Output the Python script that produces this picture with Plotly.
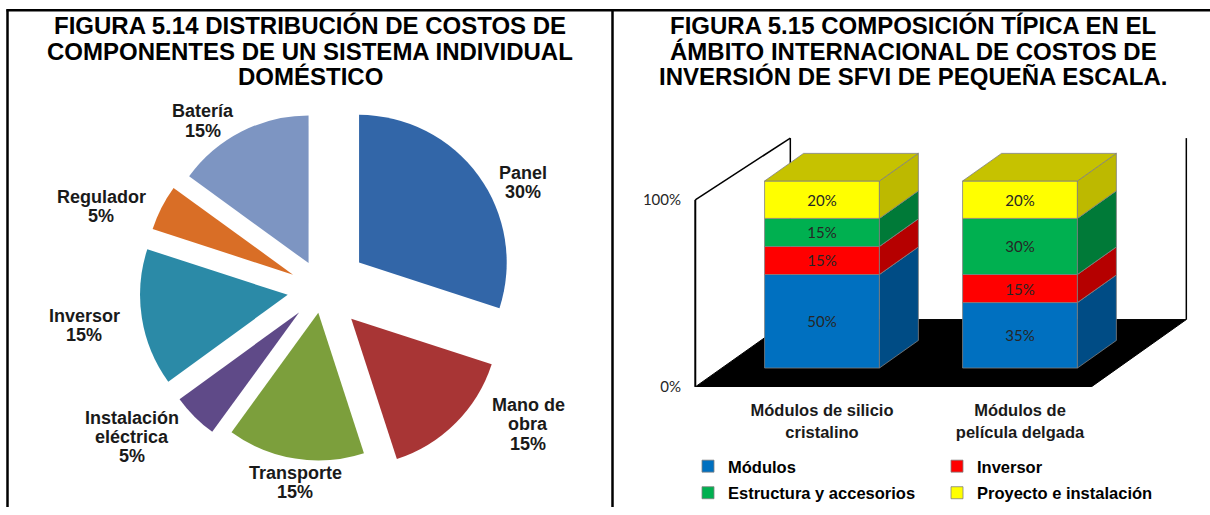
import plotly.graph_objects as go

FIG_W, FIG_H = 1210, 515

# ---------------- Figura 5.14: cost distribution (pie) ----------------
pie_labels = ["Panel", "Mano de obra", "Transporte", "Instalación eléctrica",
              "Inversor", "Regulador", "Batería"]
pie_values = [30, 15, 15, 5, 15, 5, 15]

# ---------------- Figura 5.15: stacked composition (3D-style bars) ----------------
bar_categories = ["Módulos de silicio<br>cristalino", "Módulos de<br>película delgada"]
series_names = ["Módulos", "Inversor", "Estructura y accesorios", "Proyecto e instalación"]
modulos = [50, 35]
inversor = [15, 15]
estructura = [15, 30]
proyecto = [20, 20]
y_tick_values = [0, 100]
y_tick_labels = ["0%", "100%"]

title_left = ["FIGURA 5.14 DISTRIBUCIÓN DE COSTOS DE",
              "COMPONENTES DE UN SISTEMA INDIVIDUAL",
              "DOMÉSTICO"]
title_right = ["FIGURA 5.15 COMPOSICIÓN TÍPICA EN EL",
               "ÁMBITO INTERNACIONAL DE COSTOS DE",
               "INVERSIÓN DE SFVI DE PEQUEÑA ESCALA."]

# ---------------- styles ----------------
pie_colors = ["#3266A8", "#A83535", "#7C9F3C", "#5F4A88", "#2B8AA7", "#D96E26", "#7D95C2"]
pie_pull = [0.31, 0.28, 0.16, 0.22, 0.235, 0.22, 0.20]
pie_label_lines = {"Mano de obra": ["Mano de", "obra"],
                   "Instalación eléctrica": ["Instalación", "eléctrica"]}
pie_label_pos = {"Panel": (523, 185), "Mano de obra": (528, 431), "Transporte": (295, 490),
                 "Instalación eléctrica": (132, 444), "Inversor": (84, 331),
                 "Regulador": (101, 210), "Batería": (203, 123)}

front_colors = ["#0070C0", "#FF0000", "#00B050", "#FFFF00"]
side_colors = ["#004C85", "#B50000", "#007A38", "#BDB900"]
top_color = "#C6C200"
edge_color = "#808080"

ARIAL = "Liberation Sans, Arial, sans-serif"
TITLE_FONT = dict(family=ARIAL, size=24, color="black", weight="bold")
LABEL_FONT = dict(family=ARIAL, size=18, color="#1a1a1a", weight="bold")
CAT_FONT = dict(family=ARIAL, size=16.5, color="#1a1a1a", weight="bold")
CAL_FONT = dict(family="Lato, Carlito, sans-serif", size=15, color="#262626")


def px(x):
    return x / FIG_W


def py(y):
    return 1 - y / FIG_H


annotations = []


def add_text_block(lines, cx, cy, spacing, font):
    """Stack one annotation per line, centred on (cx, cy) in pixels."""
    n = len(lines)
    for k, line in enumerate(lines):
        y = cy + (k - (n - 1) / 2) * spacing
        annotations.append(dict(text=line, x=px(cx), y=py(y), xref="paper", yref="paper",
                                xanchor="center", yanchor="middle", showarrow=False,
                                font=font))


fig = go.Figure()

# ---- pie ----
pie_cx, pie_cy, pie_r = 322, 294, 150
half = pie_r * (1 + max(pie_pull))
fig.add_trace(go.Pie(
    labels=pie_labels, values=pie_values, sort=False, direction="clockwise", rotation=0,
    pull=pie_pull, textinfo="none", showlegend=False,
    marker=dict(colors=pie_colors, line=dict(width=0)),
    domain=dict(x=[px(pie_cx - half), px(pie_cx + half)],
                y=[py(pie_cy + half), py(pie_cy - half)]),
))

for lab, val in zip(pie_labels, pie_values):
    x, y = pie_label_pos[lab]
    add_text_block(pie_label_lines.get(lab, [lab]) + [f"{val}%"], x, y, 19.5, LABEL_FONT)

# ---- 3D bar geometry (axis units) ----
CAT_X = [0, 1]
BAR_W = 0.58
DEPTH_X, DEPTH_Y = 0.48, 36.0           # full floor depth
BAR_Z0, BAR_Z1 = 0.28, 0.69             # bar front/back as fraction of depth
WALL_X0, WALL_X1 = -0.64, 1.36
WALL_TOP = 100
WALL_BACK_TOP = 133
bar_base = BAR_Z0 * DEPTH_Y
dxb = (BAR_Z1 - BAR_Z0) * DEPTH_X
dyb = (BAR_Z1 - BAR_Z0) * DEPTH_Y

series = [modulos, inversor, estructura, proyecto]
cum = [0.0] * len(CAT_X)
for i, (name, vals) in enumerate(zip(series_names, series)):
    bases = [bar_base + c for c in cum]
    fig.add_trace(go.Bar(
        x=CAT_X, y=vals, base=bases, width=BAR_W, name=name,
        legend="legend" if i < 2 else "legend2",
        marker=dict(color=front_colors[i], line=dict(color=edge_color, width=0.8)),
        text=[f"{v}%" for v in vals], textposition="inside", insidetextanchor="middle",
        textfont=CAL_FONT, textangle=0, constraintext="none",
    ))
    # right-hand side faces
    sx, sy = [], []
    for j, xc in enumerate(CAT_X):
        xr = xc + BAR_W / 2
        b, t = bases[j], bases[j] + vals[j]
        sx += [xr, xr + dxb, xr + dxb, xr, xr, None]
        sy += [b, b + dyb, t + dyb, t, b, None]
    fig.add_trace(go.Scatter(x=sx, y=sy, fill="toself", mode="lines",
                             fillcolor=side_colors[i], line=dict(color=edge_color, width=0.8),
                             showlegend=False, hoverinfo="skip"))
    cum = [c + v for c, v in zip(cum, vals)]

# top faces of the stacks
tx, ty = [], []
for j, xc in enumerate(CAT_X):
    t = bar_base + cum[j]
    xl, xr = xc - BAR_W / 2, xc + BAR_W / 2
    tx += [xl, xr, xr + dxb, xl + dxb, xl, None]
    ty += [t, t, t + dyb, t + dyb, t, None]
fig.add_trace(go.Scatter(x=tx, y=ty, fill="toself", mode="lines", fillcolor=top_color,
                         line=dict(color=edge_color, width=0.8), showlegend=False, hoverinfo="skip"))


# walls and floor (background)
def path(pts):
    return "M " + " L ".join(f"{x},{y}" for x, y in pts) + " Z"


BX0, BX1 = WALL_X0 + DEPTH_X, WALL_X1 + DEPTH_X
shapes = [
    dict(type="path", xref="x", yref="y", layer="below", fillcolor="black", line=dict(color="black", width=1),
         path=path([(WALL_X0, 0), (WALL_X1, 0), (BX1, DEPTH_Y), (BX0, DEPTH_Y)])),
    dict(type="line", xref="x", yref="y", layer="below", line=dict(color="black", width=2),
         x0=WALL_X0, y0=0, x1=WALL_X0, y1=WALL_TOP),
    dict(type="line", xref="x", yref="y", layer="below", line=dict(color="black", width=1.5),
         x0=WALL_X0, y0=WALL_TOP, x1=BX0, y1=WALL_BACK_TOP),
    dict(type="line", xref="x", yref="y", layer="below", line=dict(color="black", width=1.5),
         x0=BX0, y0=DEPTH_Y, x1=BX0, y1=WALL_BACK_TOP),
    dict(type="line", xref="x", yref="y", layer="below", line=dict(color="black", width=1.5),
         x0=BX1, y0=DEPTH_Y, x1=BX1, y1=WALL_BACK_TOP),
    # page frame
    dict(type="line", xref="paper", yref="paper", line=dict(color="black", width=2.5),
         x0=px(6.5), y0=py(10.5), x1=1, y1=py(10.5)),
    dict(type="line", xref="paper", yref="paper", line=dict(color="black", width=2.5),
         x0=px(7.5), y0=py(9.5), x1=px(7.5), y1=0),
    dict(type="line", xref="paper", yref="paper", line=dict(color="black", width=2.5),
         x0=px(612.5), y0=py(9.5), x1=px(612.5), y1=0),
]

# titles
add_text_block(title_left, 310, 52, 26, TITLE_FONT)
add_text_block(title_right, 913, 52, 26, TITLE_FONT)

# axis placement: 1 category unit = 198 px, 1 % = 1.9 px
X_PX0, X_PX1, X_ORIGIN, X_SCALE = 690, 1200, 822, 198
Y_PX_BOTTOM, Y_PX_TOP, Y_SCALE = 393, 130, 1.9

legend_common = dict(orientation="h", entrywidth=204, entrywidthmode="pixels",
                     font=dict(family=ARIAL, size=16.5, color="black", weight="bold"),
                     bgcolor="rgba(0,0,0,0)", xanchor="left", yanchor="top",
                     itemclick=False, itemdoubleclick=False)

fig.update_layout(
    width=FIG_W, height=FIG_H, margin=dict(l=0, r=0, t=0, b=0),
    paper_bgcolor="white", plot_bgcolor="white",
    barmode="overlay", shapes=shapes, annotations=annotations,
    xaxis=dict(domain=[px(X_PX0), px(X_PX1)],
               range=[(X_PX0 - X_ORIGIN) / X_SCALE, (X_PX1 - X_ORIGIN) / X_SCALE],
               tickvals=CAT_X, ticktext=bar_categories, showgrid=False, zeroline=False,
               showline=False, ticks="", ticklabelstandoff=12, tickfont=CAT_FONT),
    yaxis=dict(domain=[py(Y_PX_BOTTOM), py(Y_PX_TOP)],
               range=[0, (Y_PX_BOTTOM - Y_PX_TOP) / Y_SCALE],
               tickvals=y_tick_values, ticktext=y_tick_labels, showgrid=False,
               zeroline=False, showline=False, ticks="", ticklabelstandoff=8,
               tickfont=CAL_FONT),
    legend=dict(x=px(688), y=py(456), **legend_common),
    legend2=dict(x=px(688), y=py(483), **legend_common),
)

fig.write_html("out.html")
